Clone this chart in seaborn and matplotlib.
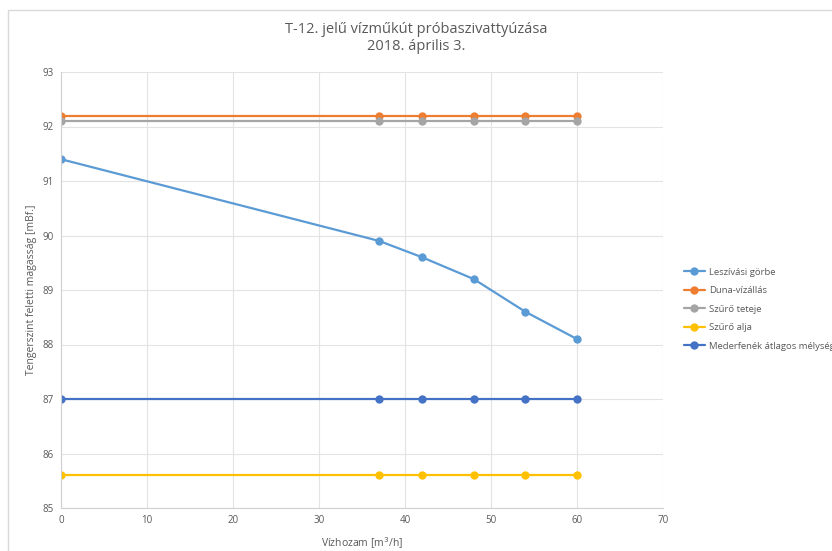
import numpy as np
import pandas as pd
import seaborn as sns
import matplotlib
matplotlib.use("Agg")
import matplotlib.pyplot as plt
from matplotlib.patches import Rectangle

# ---- data ----
x_flow = [0, 37, 42, 48, 54, 60]
leszivasi = [91.4, 89.9, 89.6, 89.2, 88.6, 88.1]
duna = [92.2, 92.2, 92.2, 92.2, 92.2, 92.2]
szuro_teteje = [92.1, 92.1, 92.1, 92.1, 92.1, 92.1]
szuro_alja = [85.6, 85.6, 85.6, 85.6, 85.6, 85.6]
mederfenek = [87.0, 87.0, 87.0, 87.0, 87.0, 87.0]
series_names = ["Leszívási görbe", "Duna-vízállás", "Szűrő teteje", "Szűrő alja",
                "Mederfenék átlagos mélysége"]
colors = ["#5B9BD5", "#ED7D31", "#A5A5A5", "#FFC000", "#4472C4"]
title = "T-12. jelű vízműkút próbaszivattyúzása\n2018. április 3."
xlabel = "Vízhozam [m$^3$/h]"
ylabel = "Tengerszint feletti magasság [mBf.]"

rows = []
for name, vals in zip(series_names, [leszivasi, duna, szuro_teteje, szuro_alja, mederfenek]):
    for xv, yv in zip(x_flow, vals):
        rows.append({"x": xv, "y": yv, "series": name})
df = pd.DataFrame(rows)

sns.set_style("white")
plt.rcParams["font.family"] = ["Open Sans", "DejaVu Sans"]

fig = plt.figure(figsize=(8.32, 5.51), dpi=100)
ax = fig.add_axes([61/832, 1-508/551, (663-61)/832, (508-72)/551])

sns.lineplot(data=df, x="x", y="y", hue="series", hue_order=series_names,
             palette=colors, marker="o", markersize=6, markeredgewidth=0,
             linewidth=1.6, ax=ax, legend=True, sort=False)

txt = "#595959"
ax.set_xlim(0, 70)
ax.set_ylim(85, 93)
ax.set_xticks(range(0, 71, 10))
ax.set_yticks(range(85, 94))
ax.grid(True, color="#E3E3E3", linewidth=0.8)
ax.set_axisbelow(True)
for s in ["top", "right"]:
    ax.spines[s].set_visible(False)
for s in ["left", "bottom"]:
    ax.spines[s].set_color("#D0D0D0")
    ax.spines[s].set_linewidth(0.8)
ax.tick_params(axis="both", colors=txt, labelsize=7, length=0, pad=5)
ax.set_xlabel(xlabel, color=txt, fontsize=7.5, labelpad=7)
ax.set_ylabel(ylabel, color=txt, fontsize=7.5, labelpad=4)

fig.text(0.5, 1-38/551, title, ha="center", va="center", color=txt,
         fontsize=10.5, linespacing=1.2)

leg = ax.legend(loc="center left", bbox_to_anchor=(1.02, 0.456), frameon=False,
                fontsize=6.8, labelcolor=txt, handlelength=2.3, handletextpad=0.4,
                labelspacing=1.0)

fig.patches.append(Rectangle((8/832, -0.01), 1.0, 1-10/551+0.01,
                             transform=fig.transFigure, fill=False,
                             edgecolor="#D9D9D9", linewidth=1.0, zorder=-1))

fig.savefig("out.png", dpi=100)
